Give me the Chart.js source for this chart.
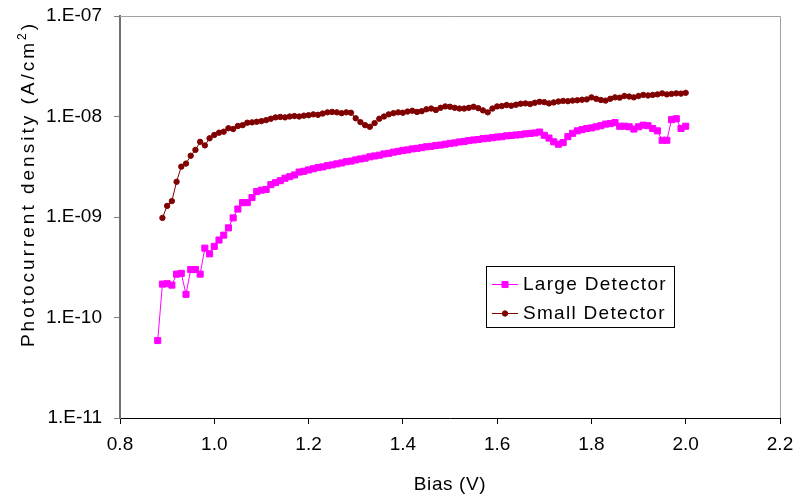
<!DOCTYPE html>
<html>
<head>
<meta charset="utf-8">
<script src="https://cdn.jsdelivr.net/npm/chart.js@4.4.0/dist/chart.umd.min.js"></script>
<style>
  html, body { margin: 0; padding: 0; background: #fff; }
  #chart { display: block; }
</style>
</head>
<body>
<canvas id="chart" width="794" height="496"></canvas>
<script>
const FONT = "'Liberation Sans', Arial, sans-serif";

// Bias (V) for the large detector
const biasLarge = [
  0.88, 0.89, 0.90, 0.91, 0.92, 0.93, 0.94, 0.95, 0.96, 0.97,
  0.98, 0.99, 1.00, 1.01, 1.02, 1.03, 1.04, 1.05, 1.06, 1.07,
  1.08, 1.09, 1.10, 1.11, 1.12, 1.13, 1.14, 1.15, 1.16, 1.17,
  1.18, 1.19, 1.20, 1.21, 1.22, 1.23, 1.24, 1.25, 1.26, 1.27,
  1.28, 1.29, 1.30, 1.31, 1.32, 1.33, 1.34, 1.35, 1.36, 1.37,
  1.38, 1.39, 1.40, 1.41, 1.42, 1.43, 1.44, 1.45, 1.46, 1.47,
  1.48, 1.49, 1.50, 1.51, 1.52, 1.53, 1.54, 1.55, 1.56, 1.57,
  1.58, 1.59, 1.60, 1.61, 1.62, 1.63, 1.64, 1.65, 1.66, 1.67,
  1.68, 1.69, 1.70, 1.71, 1.72, 1.73, 1.74, 1.75, 1.76, 1.77,
  1.78, 1.79, 1.80, 1.81, 1.82, 1.83, 1.84, 1.85, 1.86, 1.87,
  1.88, 1.89, 1.90, 1.91, 1.92, 1.93, 1.94, 1.95, 1.96, 1.97,
  1.98, 1.99, 2.00
];
// photocurrent density (A/cm2), large detector
const largeDetector = [
  5.9e-11, 2.15e-10, 2.17e-10, 2.1e-10, 2.7e-10, 2.75e-10, 1.7e-10, 3.0e-10, 3.0e-10, 2.7e-10,
  4.9e-10, 4.3e-10, 5.1e-10, 5.9e-10, 6.6e-10, 7.8e-10, 9.8e-10, 1.2e-9, 1.39e-9, 1.39e-9,
  1.56e-9, 1.79e-9, 1.85e-9, 1.88e-9, 2.1e-9, 2.2e-9, 2.3e-9, 2.43e-9, 2.52e-9, 2.62e-9,
  2.8e-9, 2.85e-9, 2.94e-9, 3.02e-9, 3.1e-9, 3.15e-9, 3.24e-9, 3.3e-9, 3.38e-9, 3.45e-9,
  3.55e-9, 3.6e-9, 3.7e-9, 3.78e-9, 3.85e-9, 3.97e-9, 4.05e-9, 4.12e-9, 4.24e-9, 4.3e-9,
  4.42e-9, 4.5e-9, 4.6e-9, 4.65e-9, 4.76e-9, 4.82e-9, 4.9e-9, 5.0e-9, 5.05e-9, 5.15e-9,
  5.2e-9, 5.3e-9, 5.4e-9, 5.46e-9, 5.58e-9, 5.65e-9, 5.76e-9, 5.84e-9, 5.9e-9, 6.02e-9,
  6.08e-9, 6.15e-9, 6.25e-9, 6.3e-9, 6.42e-9, 6.48e-9, 6.55e-9, 6.6e-9, 6.72e-9, 6.78e-9,
  6.86e-9, 7.0e-9, 6.5e-9, 6.1e-9, 5.6e-9, 5.3e-9, 5.5e-9, 6.3e-9, 6.8e-9, 7.2e-9,
  7.4e-9, 7.6e-9, 7.7e-9, 7.9e-9, 8.1e-9, 8.4e-9, 8.5e-9, 8.7e-9, 8.0e-9, 8.0e-9,
  7.9e-9, 7.5e-9, 7.9e-9, 8.2e-9, 8.1e-9, 7.6e-9, 7.2e-9, 5.8e-9, 5.8e-9, 9.3e-9,
  9.5e-9, 7.6e-9, 8.0e-9
];

// Bias (V) for the small detector
const biasSmall = [
  0.89, 0.90, 0.91, 0.92, 0.93, 0.94, 0.95, 0.96, 0.97, 0.98,
  0.99, 1.00, 1.01, 1.02, 1.03, 1.04, 1.05, 1.06, 1.07, 1.08,
  1.09, 1.10, 1.11, 1.12, 1.13, 1.14, 1.15, 1.16, 1.17, 1.18,
  1.19, 1.20, 1.21, 1.22, 1.23, 1.24, 1.25, 1.26, 1.27, 1.28,
  1.29, 1.30, 1.31, 1.32, 1.33, 1.34, 1.35, 1.36, 1.37, 1.38,
  1.39, 1.40, 1.41, 1.42, 1.43, 1.44, 1.45, 1.46, 1.47, 1.48,
  1.49, 1.50, 1.51, 1.52, 1.53, 1.54, 1.55, 1.56, 1.57, 1.58,
  1.59, 1.60, 1.61, 1.62, 1.63, 1.64, 1.65, 1.66, 1.67, 1.68,
  1.69, 1.70, 1.71, 1.72, 1.73, 1.74, 1.75, 1.76, 1.77, 1.78,
  1.79, 1.80, 1.81, 1.82, 1.83, 1.84, 1.85, 1.86, 1.87, 1.88,
  1.89, 1.90, 1.91, 1.92, 1.93, 1.94, 1.95, 1.96, 1.97, 1.98,
  1.99, 2.00
];
const smallDetector = [
  9.8e-10, 1.29e-9, 1.44e-9, 2.24e-9, 3.17e-9, 3.4e-9, 4.07e-9, 4.65e-9, 5.6e-9, 5.16e-9,
  6.07e-9, 6.55e-9, 6.9e-9, 7.06e-9, 7.64e-9, 7.5e-9, 8.04e-9, 8.2e-9, 8.67e-9, 8.74e-9,
  8.86e-9, 9.0e-9, 9.2e-9, 9.5e-9, 9.8e-9, 9.9e-9, 9.8e-9, 1.0e-8, 1.01e-8, 1.0e-8,
  1.02e-8, 1.03e-8, 1.05e-8, 1.04e-8, 1.07e-8, 1.1e-8, 1.11e-8, 1.1e-8, 1.08e-8, 1.1e-8,
  1.09e-8, 9.6e-9, 8.8e-9, 8.2e-9, 7.9e-9, 8.6e-9, 9.5e-9, 1.0e-8, 1.05e-8, 1.08e-8,
  1.1e-8, 1.09e-8, 1.12e-8, 1.14e-8, 1.11e-8, 1.13e-8, 1.18e-8, 1.2e-8, 1.16e-8, 1.22e-8,
  1.26e-8, 1.25e-8, 1.22e-8, 1.2e-8, 1.2e-8, 1.22e-8, 1.25e-8, 1.21e-8, 1.15e-8, 1.1e-8,
  1.2e-8, 1.26e-8, 1.27e-8, 1.3e-8, 1.28e-8, 1.31e-8, 1.34e-8, 1.35e-8, 1.33e-8, 1.37e-8,
  1.4e-8, 1.39e-8, 1.35e-8, 1.38e-8, 1.41e-8, 1.43e-8, 1.42e-8, 1.44e-8, 1.45e-8, 1.47e-8,
  1.48e-8, 1.55e-8, 1.5e-8, 1.46e-8, 1.44e-8, 1.5e-8, 1.55e-8, 1.54e-8, 1.6e-8, 1.58e-8,
  1.55e-8, 1.6e-8, 1.64e-8, 1.62e-8, 1.64e-8, 1.66e-8, 1.7e-8, 1.66e-8, 1.68e-8, 1.7e-8,
  1.69e-8, 1.72e-8
];

const biasTicks = [0.8, 1.0, 1.2, 1.4, 1.6, 1.8, 2.0, 2.2];
const decadeTicks = [1e-11, 1e-10, 1e-9, 1e-8, 1e-7];

function toPoints(xs, ys) {
  return xs.map((x, i) => ({ x: x, y: ys[i] }));
}

// Excel style "1.E-08"
function expLabel(v) {
  const e = Math.round(Math.log10(v));
  return "1.E" + (e < 0 ? "-" : "+") + String(Math.abs(e)).padStart(2, "0");
}

// frame, axis titles and legend box drawn the Excel way
const excelBits = {
  id: "excelBits",
  beforeDatasetsDraw(chart) {
    const { ctx, chartArea: a } = chart;
    ctx.save();
    ctx.strokeStyle = "#a0a0a0";
    ctx.lineWidth = 1;
    ctx.beginPath();
    ctx.moveTo(a.left, a.top + 0.5);
    ctx.lineTo(a.right + 0.5, a.top + 0.5);
    ctx.lineTo(a.right + 0.5, a.bottom);
    ctx.stroke();
    ctx.restore();
  },
  afterDraw(chart) {
    const ctx = chart.ctx;
    ctx.save();
    ctx.fillStyle = "#000";

    // x title
    ctx.letterSpacing = "0.6px";
    ctx.font = "19px " + FONT;
    ctx.textAlign = "center";
    ctx.textBaseline = "alphabetic";
    ctx.fillText("Bias (V)", 450, 490);

    // y title with superscript 2
    ctx.translate(34, 184);
    ctx.rotate(-Math.PI / 2);
    ctx.textAlign = "left";
    ctx.letterSpacing = "3px";
    const main = "Photocurrent density (A/cm";
    ctx.font = "19px " + FONT;
    const w1 = ctx.measureText(main).width;
    const w3 = ctx.measureText(")").width;
    ctx.font = "12px " + FONT;
    const w2 = ctx.measureText("2").width;
    let x0 = -(w1 + w2 + w3) / 2;
    ctx.font = "19px " + FONT;
    ctx.fillText(main, x0, 0);
    ctx.font = "12px " + FONT;
    ctx.fillText("2", x0 + w1, -8);
    ctx.font = "19px " + FONT;
    ctx.fillText(")", x0 + w1 + w2, 0);
    ctx.restore();

    // legend
    ctx.save();
    const box = { x: 486.5, y: 266.5, w: 188, h: 61 };
    ctx.fillStyle = "#fff";
    ctx.fillRect(box.x, box.y, box.w, box.h);
    ctx.strokeStyle = "#000";
    ctx.lineWidth = 1;
    ctx.strokeRect(box.x, box.y, box.w, box.h);
    ctx.font = "19px " + FONT;
    ctx.letterSpacing = "1.3px";
    ctx.textAlign = "left";
    ctx.textBaseline = "middle";
    chart.data.datasets.forEach((ds, i) => {
      const y = 284 + i * 29;
      ctx.strokeStyle = ds.borderColor;
      ctx.lineWidth = 1;
      ctx.beginPath();
      ctx.moveTo(492, y + 0.5);
      ctx.lineTo(518, y + 0.5);
      ctx.stroke();
      ctx.fillStyle = ds.pointBackgroundColor;
      ctx.strokeStyle = ds.pointBorderColor;
      Chart.helpers.drawPoint(ctx, {
        pointStyle: ds.pointStyle,
        radius: ds.pointRadius,
        borderWidth: ds.pointBorderWidth,
        rotation: 0
      }, 505, y + 0.5);
      ctx.fillStyle = "#000";
      ctx.fillText(ds.label, 523, y + 1);
    });
    ctx.restore();
  }
};

new Chart(document.getElementById("chart"), {
  type: "line",
  data: {
    datasets: [
      {
        label: "Large Detector",
        data: toPoints(biasLarge, largeDetector),
        borderColor: "#ff00ff",
        backgroundColor: "#ff00ff",
        borderWidth: 1,
        pointStyle: "rect",
        pointRadius: 4.3,
        pointBorderWidth: 1,
        pointBackgroundColor: "#ff00ff",
        pointBorderColor: "#ff00ff",
        tension: 0
      },
      {
        label: "Small Detector",
        data: toPoints(biasSmall, smallDetector),
        borderColor: "#800000",
        backgroundColor: "#800000",
        borderWidth: 1,
        pointStyle: "circle",
        pointRadius: 2.7,
        pointBorderWidth: 1,
        pointBackgroundColor: "#800000",
        pointBorderColor: "#800000",
        tension: 0
      }
    ]
  },
  options: {
    responsive: false,
    animation: false,
    devicePixelRatio: 1,
    layout: { padding: { top: 16, right: 14, left: 0, bottom: 0 } },
    plugins: {
      legend: { display: false },
      tooltip: { enabled: false }
    },
    scales: {
      x: {
        type: "linear",
        min: 0.8,
        max: 2.2,
        afterBuildTicks: (s) => { s.ticks = biasTicks.map((v) => ({ value: v })); },
        afterFit: (s) => {
          s.height = 78;
          s.paddingLeft = 0;
          s.paddingRight = 0;
        },
        ticks: {
          callback: (v) => Number(v).toFixed(1),
          color: "#000",
          font: { family: FONT, size: 19 },
          padding: 9,
          maxRotation: 0
        },
        grid: {
          drawOnChartArea: false,
          drawTicks: true,
          tickLength: 6,
          color: "#000"
        },
        border: { color: "#000", width: 1 }
      },
      y: {
        type: "logarithmic",
        min: 1e-11,
        max: 1e-7,
        afterBuildTicks: (s) => { s.ticks = decadeTicks.map((v) => ({ value: v })); },
        afterFit: (s) => {
          s.width = 120;
          s.paddingTop = 0;
          s.paddingBottom = 0;
        },
        ticks: {
          callback: (v) => expLabel(v),
          color: "#000",
          font: { family: FONT, size: 19 },
          padding: 12
        },
        grid: {
          drawOnChartArea: false,
          drawTicks: true,
          tickLength: 6,
          color: "#808080"
        },
        border: { color: "#707070", width: 2 }
      }
    }
  },
  plugins: [excelBits]
});
</script>
</body>
</html>
